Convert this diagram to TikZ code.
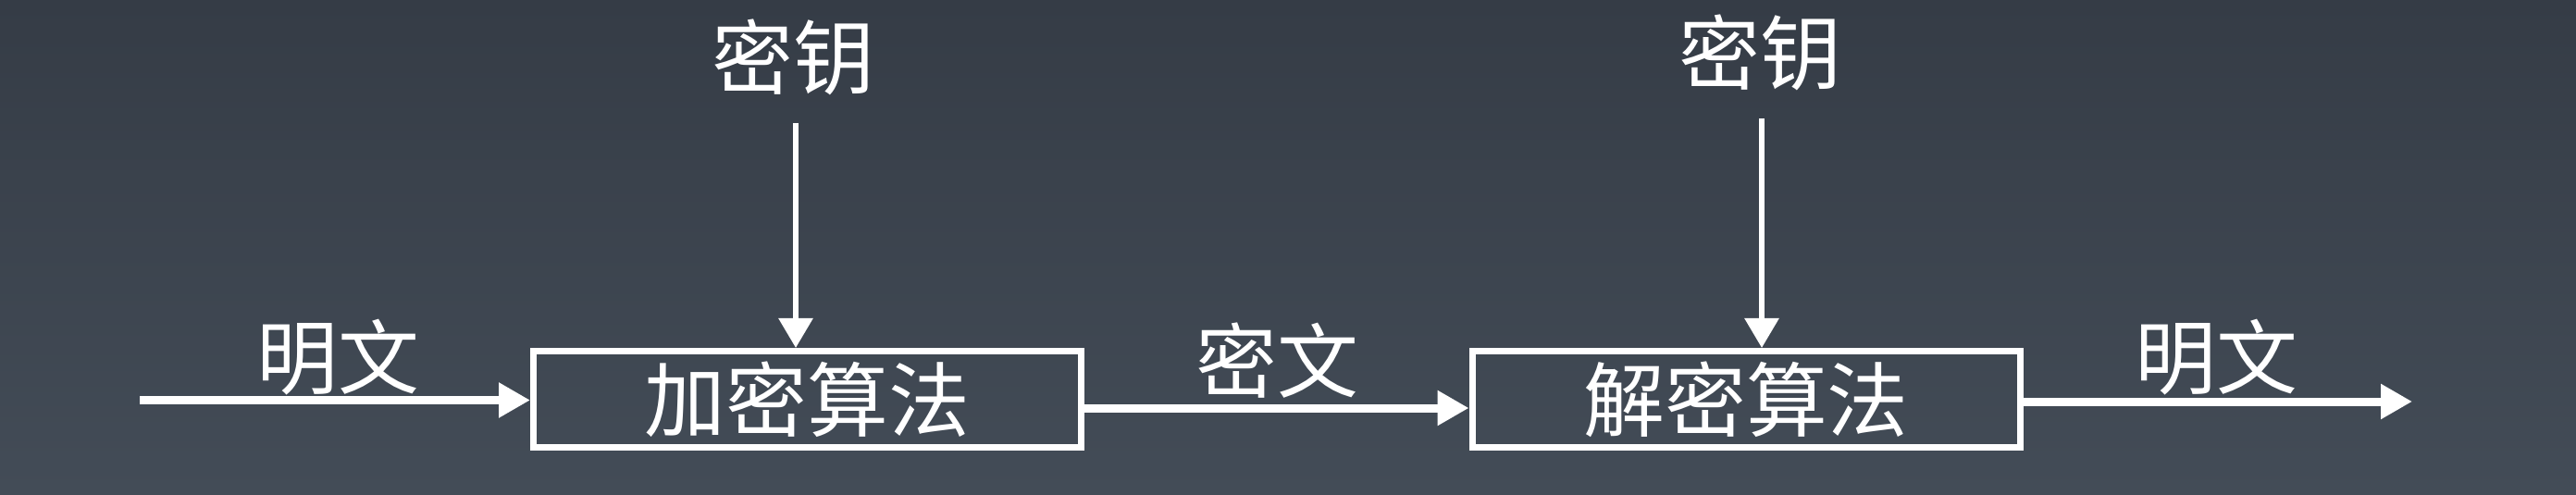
\documentclass[tikz,border=0pt]{standalone}
\usepackage{fontspec}
\newfontfamily\cjk{Noto Sans CJK SC}
\usepackage{tikz}
\usetikzlibrary{arrows.meta, positioning}
\definecolor{bgtop}{HTML}{353C46}
\definecolor{bgbottom}{HTML}{434C57}

\begin{document}
\begin{tikzpicture}[
  algo/.style={rectangle, draw=white, line width=0.07cm, minimum width=5.92cm, minimum height=1.04cm, inner sep=0pt, align=center, text=white, font=\cjk\fontsize{25}{30}\selectfont},
  txt/.style={inner sep=0pt, text=white, font=\cjk\fontsize{25}{30}\selectfont},
  flow/.style={-{Triangle[length=0.34cm, width=0.36cm]}, line width=0.09cm, white},
  keyflow/.style={-{Triangle[length=0.32cm, width=0.36cm]}, line width=0.06cm, white}
]
  % background
  \shade[top color=bgtop, bottom color=bgbottom] (0,0) rectangle (27.84,5.34);
  \useasboundingbox (0,0) rectangle (27.84,5.34);

  \node[algo] (enc) at (8.725,1.025) {加密算法};
  \node[algo] (dec) at (18.87,1.025) {解密算法};

  \node[txt] (keyA) at (8.57,4.72) {密钥};
  \node[txt] (keyB) at (19.02,4.77) {密钥};
  \node[txt] (plainIn) at (3.65,1.48) {明文};
  \node[txt] (cipher) at (13.80,1.44) {密文};
  \node[txt] (plainOut) at (23.95,1.48) {明文};

  \coordinate (src) at (1.51,1.015);
  \coordinate (dst) at (26.07,1.00);
  \coordinate (keyAtop) at (8.60,4.01);
  \coordinate (keyBtop) at (19.04,4.06);

  \draw[keyflow] (keyAtop) -- (keyAtop |- enc.north);
  \draw[keyflow] (keyBtop) -- (keyBtop |- dec.north);
  \draw[flow] (src) -- (src -| enc.west);
  \draw[flow] ([yshift=-0.095cm]enc.east) -- ([yshift=-0.095cm]dec.west);
  \draw[flow] (dec.east |- dst) -- (dst);
\end{tikzpicture}
\end{document}
